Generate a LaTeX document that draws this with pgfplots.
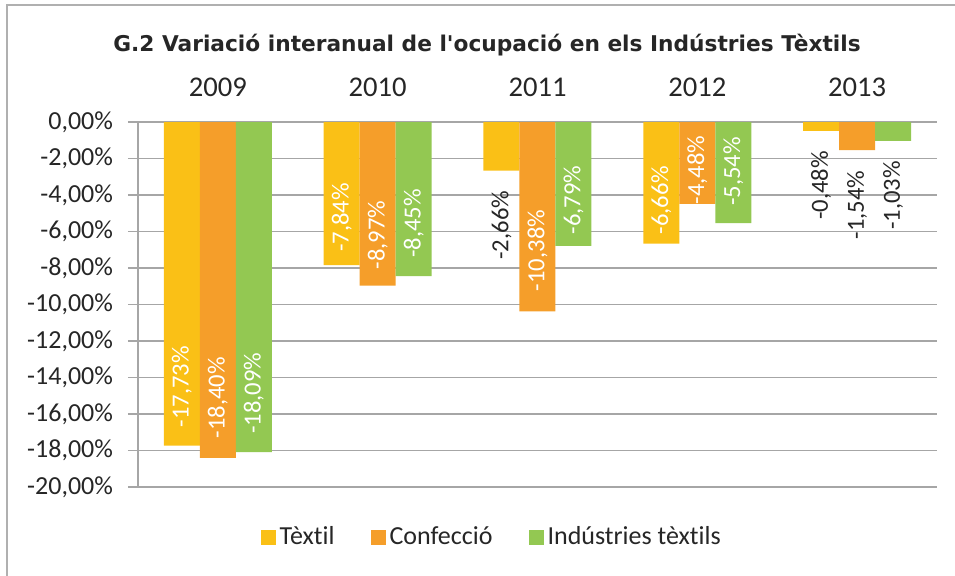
\documentclass[border=0pt]{standalone}
\usepackage{fontspec}
\setmainfont{Carlito}[Ligatures=NoCommon]
\newfontfamily\titlefont{DejaVu Sans}
\usepackage{pgfplots}
\usepackage{pgfplotstable}
\pgfplotsset{compat=1.18}

\definecolor{textil}{HTML}{FAC016}
\definecolor{confec}{HTML}{F59E2A}
\definecolor{indus}{HTML}{93C852}
\definecolor{gridc}{HTML}{A6A6A6}
\definecolor{framec}{HTML}{B0B0B0}
\definecolor{txt}{HTML}{262626}

% x, value, label inside the bar (empty when it stands below), shift of that label (pt)
\pgfplotstableread{
x y lab sh
0 -17.73 {-17,73\%} 9
1 -7.84 {-7,84\%} 6.5
2 -2.66 {} 0
3 -6.66 {-6,66\%} 4.5
4 -0.48 {} 0
}\textil
\pgfplotstableread{
x y lab sh
0 -18.40 {-18,40\%} 9.5
1 -8.97 {-8,97\%} 8
2 -10.38 {-10,38\%} 10
3 -4.48 {-4,48\%} -0.5
4 -1.54 {} 0
}\confec
\pgfplotstableread{
x y lab sh
0 -18.09 {-18,09\%} 9
1 -8.45 {-8,45\%} 9
2 -6.79 {-6,79\%} 5.5
3 -5.54 {-5,54\%} 8.5
4 -1.03 {} 0
}\indus

\pgfplotsset{
  sq legend/.style={legend image code/.code={\fill[##1] (0pt,-3.75pt) rectangle (7.5pt,3.75pt);}},
  inlab/.style={nodes near coords,
    visualization depends on={\thisrow{sh} \as \lsh},
    every node near coord/.append style={font=\fontsize{12.3}{14}\selectfont,
      yshift=\lsh pt, rotate=90, anchor=west, inner sep=0pt, text=white}},
  outlab/.style={forget plot, draw=none, fill=none, nodes near coords,
    every node near coord/.append style={font=\fontsize{12.3}{14}\selectfont,
      yshift=-10pt, rotate=90, anchor=east, inner sep=0pt, text=txt}},
}

\begin{document}
\begin{tikzpicture}
\useasboundingbox (-69pt,-44pt) rectangle (408.5pt,243.5pt);
\draw[framec, line width=0.8pt] (-65.5pt,-60pt) -- (-65.5pt,241pt) -- (420pt,241pt);
\node[font=\titlefont\fontsize{10.85}{13}\selectfont\bfseries, text=txt, anchor=base] at (174.5pt,218pt)
  {G.2 Variació interanual de l\textquotesingle ocupació en els Indústries Tèxtils};
\begin{axis}[
  scale only axis, width=399.5pt, height=182.5pt,
  xmin=-0.5, xmax=4.5, ymin=-20, ymax=0,
  axis x line=top, axis y line=left,
  axis line style={-, gridc, line width=0.8pt},
  xtick={0,1,2,3,4}, xticklabels={2009,2010,2011,2012,2013},
  xtick style={draw=none},
  xticklabel style={font=\fontsize{14.3}{17}\selectfont, text=txt, anchor=base, yshift=8pt},
  ytick={-20,-18,...,0},
  tick align=outside, major tick length=5pt,
  ytick style={gridc, line width=0.8pt},
  yticklabel={\pgfmathprintnumber[fixed,fixed zerofill,precision=2,use comma]{\tick}\%},
  yticklabel style={font=\fontsize{13}{16}\selectfont, text=txt, xshift=-4pt},
  /pgf/number format/assume math mode=true,
  ymajorgrids, major grid style={gridc, line width=0.8pt},
  ybar, bar width=18pt,
  point meta=explicit symbolic,
  legend columns=-1,
  legend style={draw=none, at={(0.444,-0.137)}, anchor=center,
    font=\fontsize{13}{15}\selectfont, text=txt,
    /tikz/every even column/.append style={column sep=16pt}},
]
\addplot[draw=none, fill=textil, bar shift=-18pt, sq legend, inlab]
  table[x=x, y=y, meta=lab] {\textil};
\addlegendentry{Tèxtil}
\addplot[draw=none, fill=confec, bar shift=0pt, sq legend, inlab]
  table[x=x, y=y, meta=lab] {\confec};
\addlegendentry{Confecció}
\addplot[draw=none, fill=indus, bar shift=18pt, sq legend, inlab]
  table[x=x, y=y, meta=lab] {\indus};
\addlegendentry{Indústries tèxtils}
% labels that stand below their bars
\addplot[bar shift=-18pt, outlab] coordinates {(2,-2.66) [-2,66\%] (4,-0.48) [-0,48\%]};
\addplot[bar shift=0pt, outlab] coordinates {(4,-1.54) [-1,54\%]};
\addplot[bar shift=18pt, outlab] coordinates {(4,-1.03) [-1,03\%]};
\pgfplotsinvokeforeach{-0.5,0.5,1.5,2.5,3.5,4.5}{
  \draw[gridc, line width=0.8pt] (axis cs:#1,0) -- ++(0,-3pt);
}
\end{axis}
\end{tikzpicture}
\end{document}
